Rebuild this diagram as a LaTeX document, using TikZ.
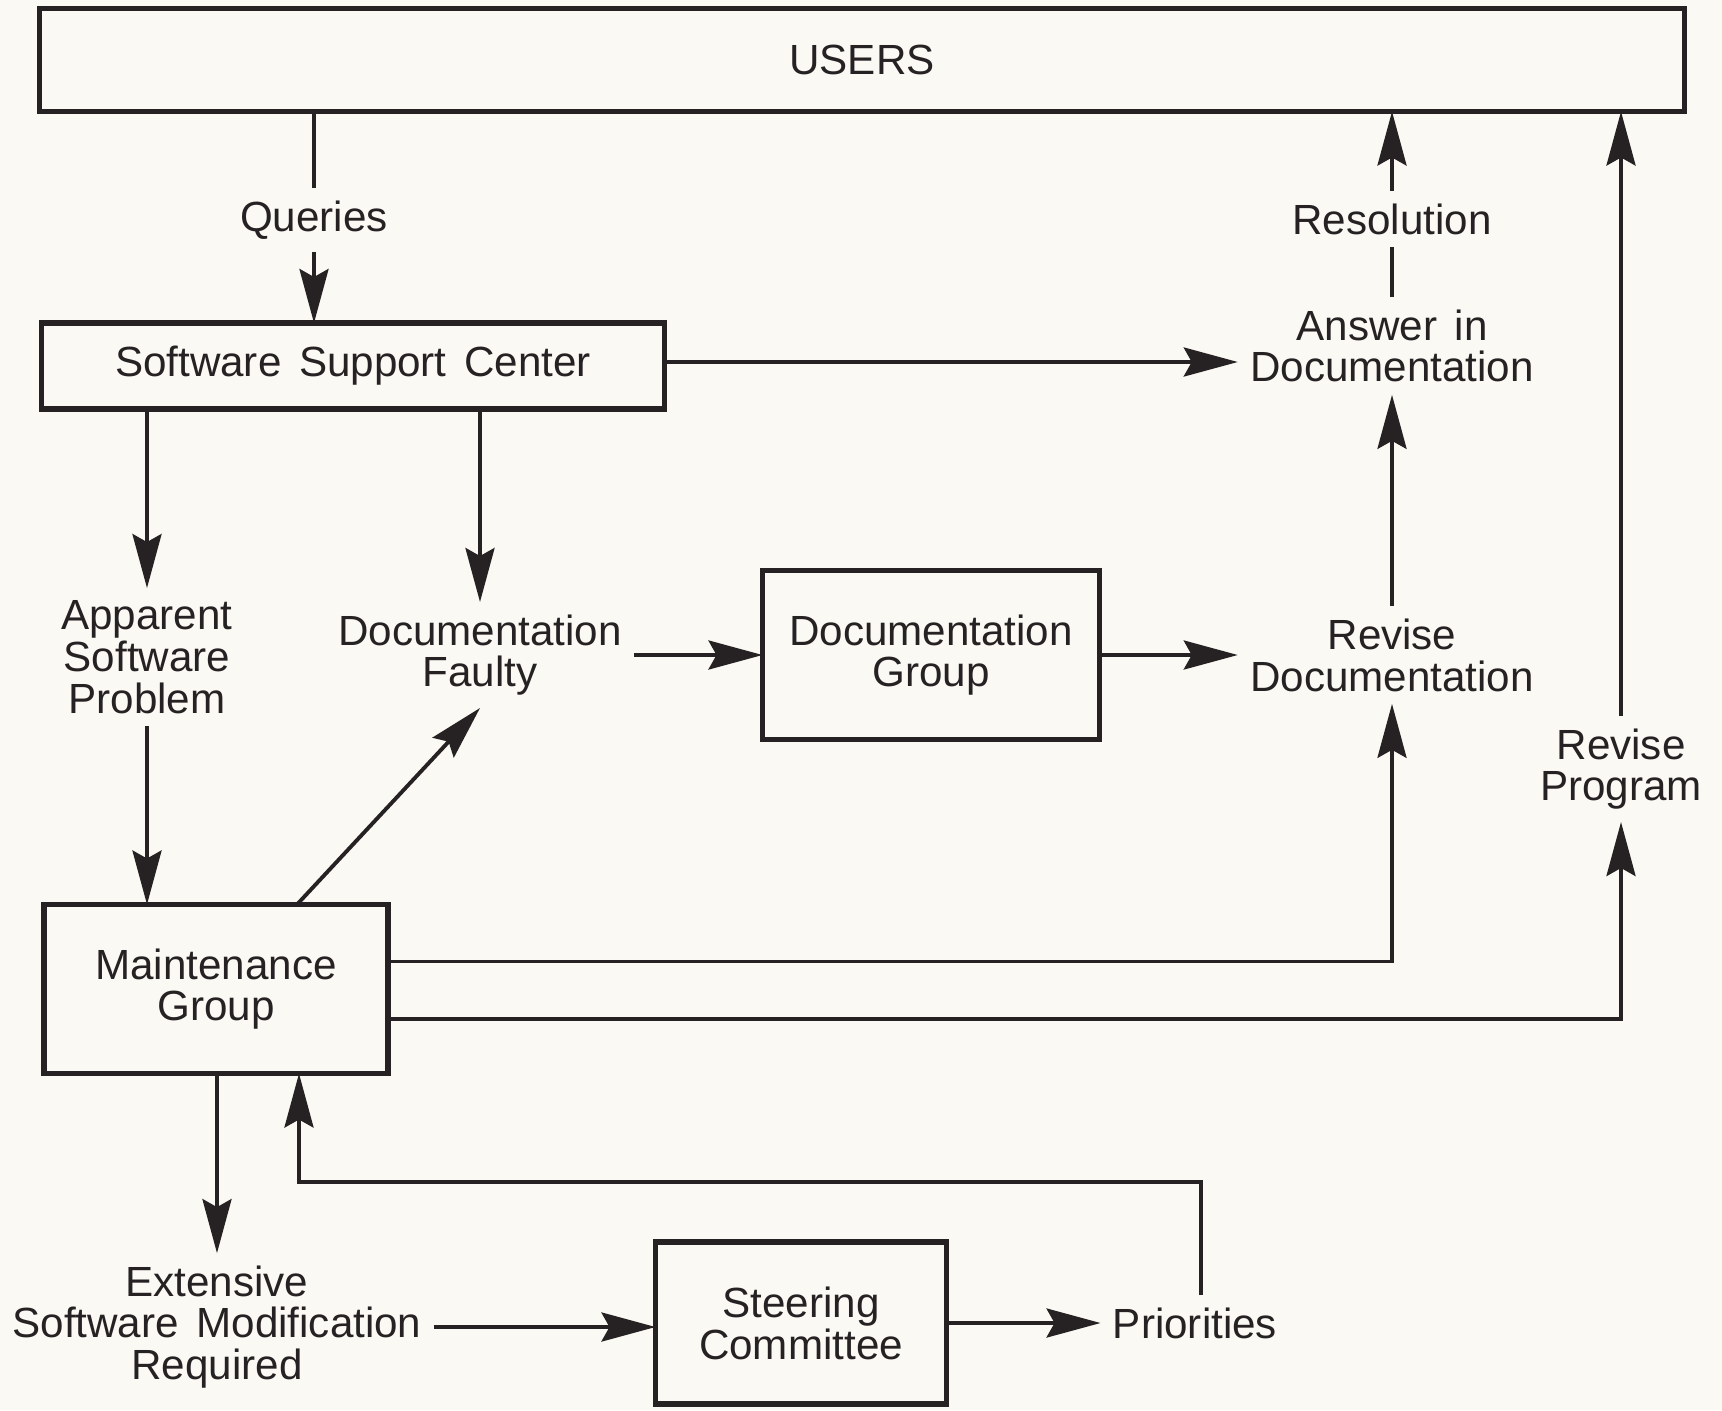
\documentclass[tikz,border=0pt]{standalone}
\usepackage{fontspec}
\setmainfont{Liberation Sans}[WordSpace=1.5]
\usetikzlibrary{arrows.meta}
\tikzset{>={Stealth[length=5.4mm,width=2.9mm,inset=0.8mm]}}
\definecolor{paper}{RGB}{250,249,244}
\definecolor{ink}{RGB}{38,34,35}
\tikzset{box/.style = {draw=ink, line width=1.5pt, inner sep=0pt, outer sep=0pt, align=center}}
\tikzset{flowtext/.style = {align=center}}
\tikzset{flow/.style = {draw=ink, line width=1.1pt}}

\begin{document}
\begin{tikzpicture}[x=0.1mm, y=-0.1mm, every node/.style={font=\fontsize{12}{11.9}\selectfont, text=ink}]
		% Paper
		\fill[paper] (0,0) rectangle (1722,1410);
		\useasboundingbox (0,0) rectangle (1722,1410);

		% Boxes
		\node[box, minimum width=164.5mm, minimum height=10.3mm] (users) at (862,60) {USERS};
		\node[box, minimum width=62.3mm, minimum height=8.6mm] (ssc) at (353,366) {Software Support Center};
		\node[box, minimum width=33.7mm, minimum height=16.9mm] (docgrp) at (931,655) {Documentation\\Group};
		\node[box, minimum width=34.4mm, minimum height=16.9mm] (maint) at (216,989) {Maintenance\\Group};
		\node[box, minimum width=29.1mm, minimum height=16.2mm] (steer) at (801,1323) {Steering\\Committee};

		% Texts on the flow
		\node[flowtext] (queries) at (314,220) {Queries};
		\node[flowtext] (resolution) at (1392,219) {Resolution};
		\node[flowtext] (answer) at (1392,346) {Answer in\\Documentation};
		\node[flowtext] (revdoc) at (1392,655) {Revise\\Documentation};
		\node[flowtext] (revprog) at (1621,769) {Revise\\Program};
		\node[flowtext] (apparent) at (147,657) {Apparent\\Software\\Problem};
		\node[flowtext] (faulty) at (480,655) {Documentation\\Faulty};
		\node[flowtext] (extensive) at (217,1327) {Extensive\\Software Modification\\Required};
		\node[flowtext] (priorities) at (1195,1323) {Priorities};
		\coordinate (bend) at (1201,1182);

		% Flow
		\draw[flow] (users.south -| queries) -- (queries);
		\draw[flow, ->] (queries) -- (queries |- ssc.north);
		\draw[flow, ->] ([yshift=0.4mm]ssc.east) -- ([yshift=0.4mm]ssc.east -| answer.west);
		\draw[flow] (answer) -- (resolution);
		\draw[flow, ->] (resolution) -- (resolution |- users.south);
		\draw[flow, ->] (ssc.south -| apparent) -- (apparent);
		\draw[flow, ->] (ssc.south -| faulty) -- (faulty);
		\draw[flow, ->] (faulty) -- (docgrp);
		\draw[flow, ->] (docgrp) -- (revdoc);
		\draw[flow, ->] (revdoc) -- (answer);
		\draw[flow, ->] (apparent) -- (apparent |- maint.north);
		\draw[flow, ->] ([xshift=8.1mm]maint.north) -- (faulty.south);
		\draw[flow, ->] ([yshift=2.75mm]maint.east) -| (revdoc);
		\draw[flow, ->] ([yshift=-2.96mm]maint.east) -| (revprog);
		\draw[flow, ->] (revprog) -- (revprog |- users.south);
		\draw[flow, ->] (maint.south -| extensive) -- (extensive);
		\draw[flow, ->] (extensive) -- (extensive -| steer.west);
		\draw[flow, ->] (steer) -- (priorities);
		\draw[flow, ->] (priorities.north -| bend) -- (bend) -| ([xshift=8.3mm]maint.south);
	\end{tikzpicture}
\end{document}
